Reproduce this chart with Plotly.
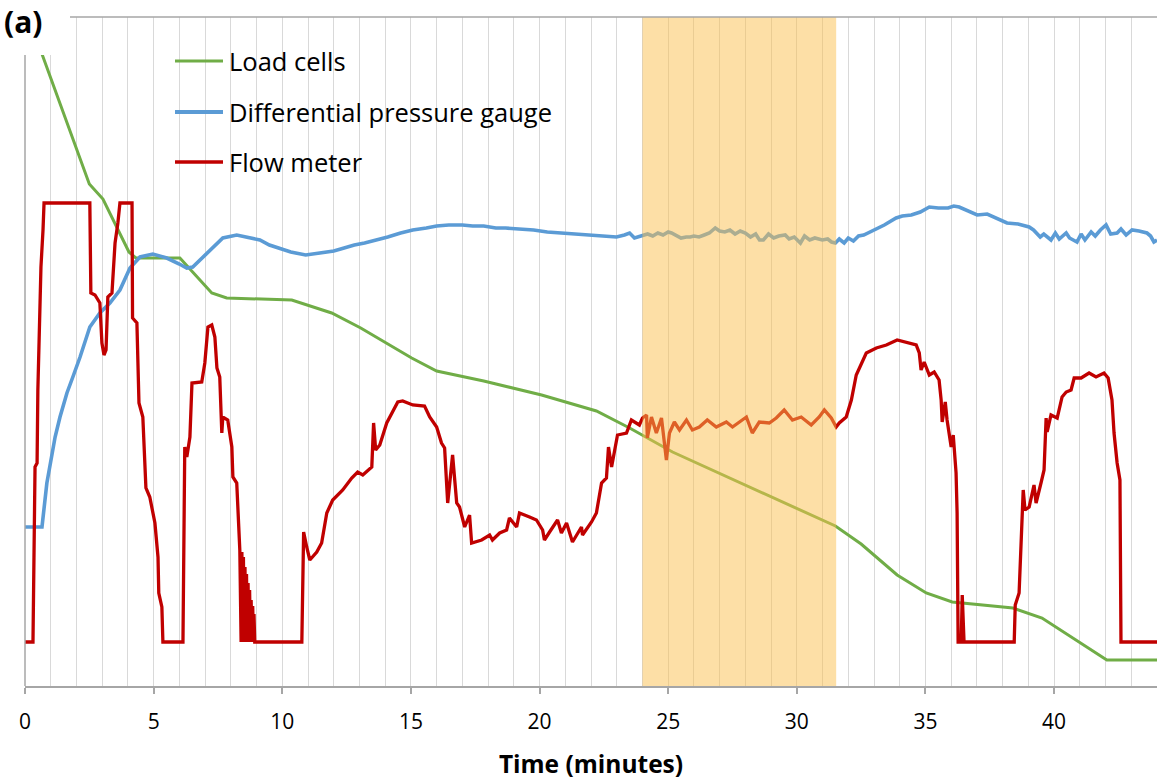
import plotly.graph_objects as go

# ---------------- data (time in minutes, signals in relative units) ----------------
load_t = [0, 0.66, 2.50, 3.03, 4.04, 4.31, 6.02, 7.26, 7.84, 10.37, 11.92, 13.05, 15.03, 16.0,
          17.83, 20.08, 22.21, 23.5, 25.17, 28.0, 31.5, 32.5, 33.9, 35.03, 36.04, 38.4, 39.53,
          42.05, 44.0]
load_v = [671, 632, 502, 487, 434, 428, 428, 393, 388, 386, 373, 358, 328, 315,
          305, 291, 275, 258, 234, 201, 160, 142, 111, 93, 84, 78, 68,
          26, 26]

dp_t = [0, 0.66, 0.85, 1.05, 1.17, 1.36, 1.63, 1.86, 2.14, 2.52, 2.91, 3.30, 3.69, 4.08, 4.47,
        4.97, 5.51, 6.0, 6.29, 6.52, 7.07, 7.69, 8.23, 8.7, 9.13, 9.5, 9.90, 10.33, 10.91, 11.46,
        12.0, 12.27, 12.8, 13.2, 13.67, 14.1, 14.6, 15.07, 15.6, 16.0, 16.47, 17.0, 17.4, 17.83,
        18.3, 18.68, 19.2, 19.77, 20.3, 20.89, 21.55, 22.0, 22.5, 22.99, 23.3, 23.50, 23.69, 24.0,
        24.2, 24.4, 24.6, 24.8, 25.0, 25.13, 25.3, 25.5, 25.7, 25.86, 26.0, 26.2, 26.4, 26.6, 26.83,
        27.0, 27.2, 27.4, 27.6, 27.8, 28.0, 28.2, 28.4, 28.55, 28.70, 28.9, 29.1, 29.3, 29.55, 29.7,
        29.9, 30.14, 30.3, 30.5, 30.7, 30.99, 31.2, 31.35, 31.50,
        31.65, 31.84, 32.0, 32.2, 32.4, 32.6, 33.01, 33.4, 33.86, 34.1, 34.45, 34.8, 35.15, 35.5,
        35.88, 36.1, 36.31, 36.6, 37.01, 37.4, 37.75, 38.17, 38.6, 39.03, 39.2, 39.46, 39.6, 39.88,
        40.05, 40.2, 40.47, 40.6, 40.89, 41.05, 41.2, 41.44, 41.6, 41.8, 42.02, 42.2, 42.45, 42.6,
        42.8, 43.03, 43.3, 43.61, 43.75, 43.88, 44.0]
dp_v = [159, 159, 203, 233, 249, 269, 293, 309, 329, 359, 373, 383, 396, 418, 429,
        432, 428, 422, 418, 419, 433, 448, 451, 448, 446, 441, 438, 434, 431, 433,
        435, 437, 441, 443, 446, 449, 453, 456, 458, 460, 461, 461, 460, 460,
        458, 458, 457, 456, 454, 453, 451, 451, 450, 449, 451, 453, 448, 451,
        452, 450, 453, 451, 454, 453, 451, 448, 449, 449, 450, 449, 451, 453, 458,
        455, 454, 456, 452, 455, 453, 449, 452, 446, 446, 452, 448, 450, 451, 447,
        449, 443, 450, 446, 448, 446, 447, 444, 443,
        447, 443, 448, 445, 450, 451, 456, 461, 468, 470, 471, 474, 479, 478,
        478, 480, 479, 476, 471, 472, 468, 463, 462, 459, 456, 449, 452, 446,
        453, 447, 453, 448, 444, 452, 446, 454, 450, 456, 461, 452, 453, 457,
        451, 456, 455, 453, 450, 444, 446]

flow_t = [0, 0.31, 0.39, 0.47, 0.50, 0.62, 0.70, 0.74, 2.52, 2.56, 2.72, 2.91, 2.99, 3.07, 3.15,
          3.22, 3.38, 3.50, 3.61, 3.69, 4.16, 4.18, 4.35, 4.43, 4.58, 4.70, 4.85, 5.05, 5.17,
          5.20, 5.32, 5.36, 6.14, 6.21, 6.29, 6.41, 6.49, 6.87, 6.99, 7.11, 7.26, 7.38, 7.46,
          7.57, 7.65, 7.69, 7.88, 8.04, 8.08, 8.23, 8.35, 8.40, 8.43, 8.46, 8.49, 8.52, 8.55,
          8.58, 8.61, 8.64, 8.67, 8.70, 8.73, 8.76, 8.79, 8.82, 8.85, 8.88, 8.90, 8.93, 10.76,
          10.80, 10.83, 10.95, 11.07, 11.34, 11.53, 11.73, 11.96, 12.35, 12.70, 12.93, 13.13,
          13.48, 13.55, 13.63, 13.79, 14.06, 14.29, 14.49, 14.68, 15.07, 15.53, 15.73, 16.0,
          16.19, 16.31, 16.43, 16.62, 16.78, 16.89, 17.09, 17.28, 17.36, 17.75, 18.06, 18.17,
          18.45, 18.72, 18.83, 19.11, 19.22, 19.61, 19.88, 20.12, 20.19, 20.39, 20.70, 20.85,
          21.05, 21.28, 21.63, 21.67, 22.02, 22.21, 22.41, 22.60, 22.68, 22.80, 23.03, 23.38,
          23.57, 23.88, 24.0, 24.16, 24.19, 24.35, 24.54, 24.74, 24.93, 25.05, 25.24, 25.44,
          25.71, 25.94, 26.21, 26.52, 26.87, 27.26, 27.50, 28.04, 28.27, 28.54, 28.93, 29.20,
          29.51, 29.83, 30.17, 30.56, 30.87, 31.07, 31.34, 31.53, 31.65, 31.92, 32.12, 32.31,
          32.70, 33.09, 33.48, 33.90, 34.37, 34.64, 34.76, 34.83, 34.95, 35.15, 35.34, 35.53,
          35.61, 35.65, 35.77, 35.84, 36.0, 36.08, 36.19, 36.23, 36.27, 36.39, 36.43, 36.50,
          38.45, 38.49, 38.64, 38.72, 38.80, 38.87, 39.03, 39.22, 39.30, 39.50, 39.61, 39.69,
          39.73, 39.88, 40.12, 40.31, 40.47, 40.66, 40.78, 41.05, 41.36, 41.63, 41.94, 42.10,
          42.25, 42.33, 42.45, 42.56, 42.60, 44.0]
flow_v = [44, 44, 219, 223, 296, 419, 456, 483, 483, 393, 391, 383, 343, 331, 336,
          389, 393, 443, 463, 483, 483, 368, 363, 283, 269, 198, 189, 163, 129,
          93, 79, 44, 44, 239, 229, 249, 303, 304, 323, 359, 361, 349, 318,
          309, 253, 269, 266, 239, 209, 203, 136, 44, 134, 44, 129, 44, 119,
          44, 112, 44, 103, 44, 96, 44, 86, 44, 80, 44, 72, 44, 44,
          126, 154, 139, 126, 134, 143, 173, 186, 196, 208, 214, 211,
          219, 263, 236, 241, 263, 274, 284, 285, 281, 280, 269, 259,
          243, 238, 183, 231, 183, 179, 159, 171, 143, 146, 151, 146,
          153, 156, 168, 159, 173, 169, 166, 156, 146, 154, 166, 153,
          163, 144, 159, 151, 164, 173, 203, 208, 239, 219, 251, 253,
          266, 261, 268, 271, 248, 269, 253, 268, 226, 253, 264, 256,
          266, 256, 259, 266, 259, 264, 259, 269, 253, 264, 263, 268,
          276, 266, 269, 261, 269, 276, 268, 259, 263, 269, 286, 311,
          333, 338, 341, 346, 343, 341, 333, 316, 324, 311, 314, 306,
          286, 264, 284, 266, 239, 251, 213, 173, 44, 44, 91, 44,
          44, 81, 93, 153, 196, 176, 179, 201, 183, 204, 216, 268,
          254, 271, 268, 289, 294, 296, 308, 308, 313, 309, 313, 308,
          286, 253, 223, 206, 44, 44]

x_ticks = [0, 5, 10, 15, 20, 25, 30, 35, 40]
band_start, band_end = 24.0, 31.53
legend_names = ["Load cells", "Differential pressure gauge", "Flow meter"]
colors = ["#70AD47", "#5B9BD5", "#C00000"]

# ---------------- figure ----------------
W, H = 1158, 782
ml, mr, mt, mb = 25, 1, 17, 96
pw, ph = W - ml - mr, H - mt - mb


def px_x(p):
    return (p - ml) / pw


def px_y(p):
    return (H - mb - p) / ph


fig = go.Figure()
fig.add_trace(go.Scatter(x=load_t, y=load_v, mode="lines", name=legend_names[0],
                         line=dict(color=colors[0], width=3), showlegend=False))
fig.add_trace(go.Scatter(x=dp_t, y=dp_v, mode="lines", name=legend_names[1],
                         line=dict(color=colors[1], width=3.6), showlegend=False))
fig.add_trace(go.Scatter(x=flow_t, y=flow_v, mode="lines", name=legend_names[2],
                         line=dict(color=colors[2], width=3.3), showlegend=False))

shapes = []
# shaded interval (semi-transparent, drawn over the lines)
shapes.append(dict(type="rect", xref="x", yref="paper", x0=band_start, x1=band_end, y0=0, y1=1,
                   fillcolor="rgba(251,192,78,0.5)", line=dict(width=0), layer="above"))
# legend background
shapes.append(dict(type="rect", xref="paper", yref="paper", x0=px_x(163), x1=px_x(560),
                   y0=px_y(187), y1=px_y(35), fillcolor="white", line=dict(width=0),
                   layer="between"))
# white box behind the panel label
shapes.append(dict(type="rect", xref="paper", yref="paper", x0=px_x(-5), x1=px_x(70),
                   y0=px_y(55), y1=px_y(-5), fillcolor="white", line=dict(width=0),
                   layer="above"))
# left axis line and top border
shapes.append(dict(type="line", xref="paper", yref="paper", x0=0, x1=0, y0=0, y1=px_y(55),
                   line=dict(color="#A6A6A6", width=1.5), layer="above"))
shapes.append(dict(type="line", xref="paper", yref="paper", x0=px_x(70), x1=1, y0=1, y1=1,
                   line=dict(color="#A6A6A6", width=1.5), layer="above"))

annotations = []
leg_y = [61, 112, 162]
leg_w = [3, 3.8, 3.4]
for name, col, yy, lw in zip(legend_names, colors, leg_y, leg_w):
    shapes.append(dict(type="line", xref="paper", yref="paper", x0=px_x(175), x1=px_x(223),
                       y0=px_y(yy), y1=px_y(yy), line=dict(color=col, width=lw), layer="above"))
    annotations.append(dict(text=name, xref="paper", yref="paper", x=px_x(227), y=px_y(yy),
                            xanchor="left", yanchor="middle", showarrow=False,
                            font=dict(size=25.5, color="#000000", family="Open Sans")))

annotations.append(dict(text="<b>(a)</b>", xref="paper", yref="paper", x=px_x(2), y=px_y(22),
                        xanchor="left", yanchor="middle", showarrow=False,
                        font=dict(size=30, color="#000000", family="Open Sans")))

fig.update_layout(
    width=W, height=H,
    margin=dict(l=ml, r=mr, t=mt, b=mb, pad=0),
    paper_bgcolor="white", plot_bgcolor="white",
    font=dict(family="Open Sans", color="#000000"),
    shapes=shapes, annotations=annotations,
    showlegend=False,
)
fig.update_xaxes(
    range=[0, 44], tickvals=x_ticks, ticks="outside", ticklen=6, tickcolor="#A6A6A6",
    tickwidth=1.5, showline=True, linecolor="#A6A6A6", linewidth=1.5,
    showgrid=True, gridcolor="#D9D9D9", gridwidth=1,
    minor=dict(dtick=1, showgrid=True, gridcolor="#D9D9D9", gridwidth=1, ticks=""),
    tickfont=dict(size=21, family="Open Sans", color="#000000"), ticklabelstandoff=10,
    title=dict(text="<b>Time (minutes)</b>", font=dict(size=24.5, family="Open Sans", color="#000000"),
               standoff=22),
    zeroline=False,
)
fig.update_yaxes(range=[0, ph], showticklabels=False, showgrid=False, zeroline=False,
                 showline=False, ticks="")

fig.write_html("out.html", config={"displayModeBar": False},
               post_script="document.body.style.margin='0px';")
